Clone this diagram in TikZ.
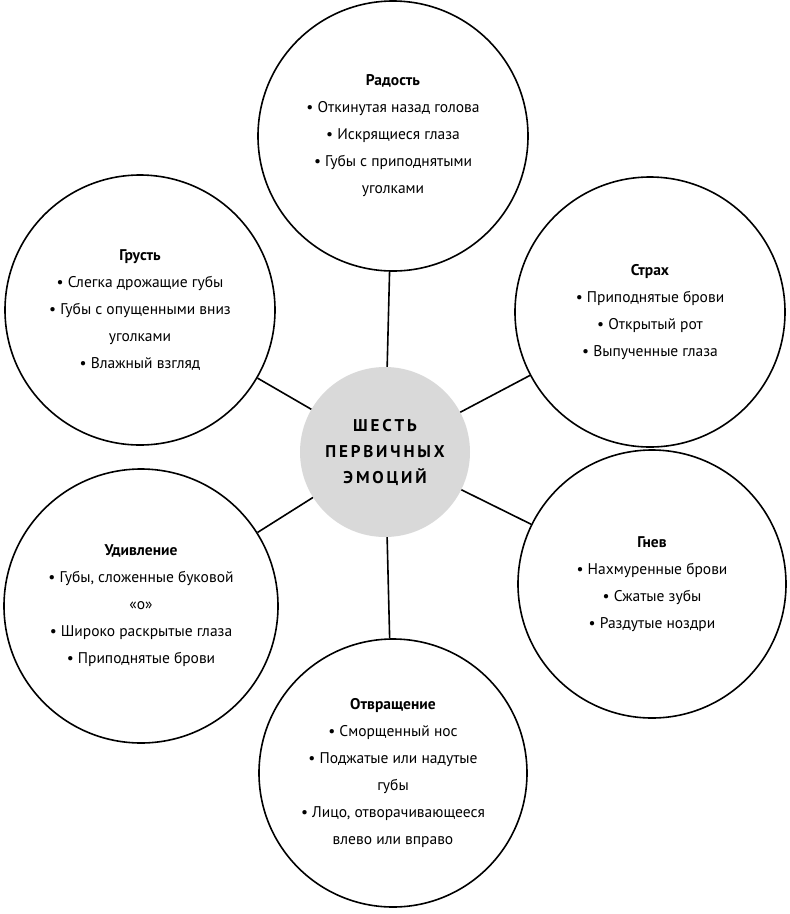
\documentclass[tikz,border=0pt]{standalone}
\usepackage{fontspec}
\setmainfont{PT Sans}
\begin{document}
\begin{tikzpicture}[x=1pt,y=-1pt,
 outer/.style={circle,draw,line width=1.6pt,inner sep=0pt,align=center,font=\fontsize{15.5}{27}\selectfont},
 link/.style={line width=1.6pt}]
\useasboundingbox (0,0) rectangle (790,914);
\node[circle,fill=black!15,minimum size=170pt,inner sep=0pt,align=center,font=\bfseries\fontsize{17}{26}\selectfont] (c) at (385,452) {Ш\,Е\,С\,Т\,Ь\\П\,Е\,Р\,В\,И\,Ч\,Н\,Ы\,Х\\Э\,М\,О\,Ц\,И\,Й};
\node[outer,minimum size=270pt] (joy) at (393,136) {\textbf{Радость}\\• Откинутая назад голова\\• Искрящиеся глаза\\• Губы с приподнятыми\\уголками};
\node[outer,minimum size=270pt] (sad) at (140,310) {\textbf{Грусть}\\• Слегка дрожащие губы\\• Губы с опущенными вниз\\уголками\\• Влажный взгляд};
\node[outer,minimum size=270pt] (fear) at (650,312) {\textbf{Страх}\\• Приподнятые брови\\• Открытый рот\\• Выпученные глаза};
\node[outer,minimum size=268pt] (anger) at (652,584) {\textbf{Гнев}\\• Нахмуренные брови\\• Сжатые зубы\\• Раздутые ноздри};
\node[outer,minimum size=274pt] (surp) at (141,606) {\textbf{Удивление}\\• Губы, сложенные буковой\\«о»\\• Широко раскрытые глаза\\• Приподнятые брови};
\node[outer,minimum size=268pt] (disg) at (393,773) {\textbf{Отвращение}\\• Сморщенный нос\\• Поджатые или надутые\\губы\\• Лицо, отворачивающееся\\влево или вправо};
\foreach \n in {joy,sad,fear,anger,surp,disg} \draw[link] (c) -- (\n);
\end{tikzpicture}
\end{document}
